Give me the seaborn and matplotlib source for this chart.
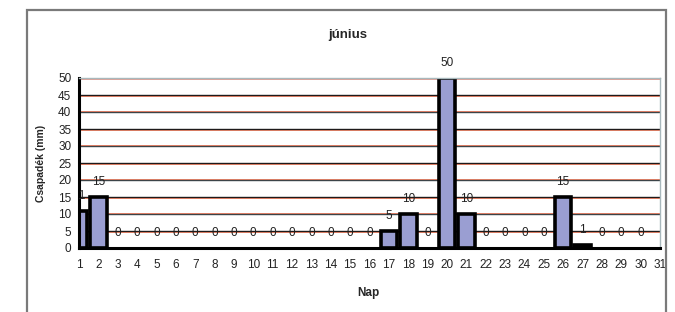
import numpy as np
import pandas as pd
import seaborn as sns
import matplotlib.pyplot as plt
from matplotlib.patches import Rectangle

# ----------------------------
# DATA
# ----------------------------
days = list(range(1, 32))
rain = [11, 15, 0, 0, 0, 0, 0, 0, 0, 0,
        0, 0, 0, 0, 0, 0, 5, 10, 0, 50,
        10, 0, 0, 0, 0, 15, 1, 0, 0, 0]
yticks = list(range(0, 55, 5))

title = "június"
xlabel = "Nap"
ylabel = "Csapadék (mm)"

df = pd.DataFrame({"nap": [str(d) for d in days[:len(rain)]], "mm": rain})
order = [str(d) for d in days]

# ----------------------------
# STYLE
# ----------------------------
sns.set_style("white")
plt.rcParams["font.family"] = ["Liberation Sans", "DejaVu Sans"]

fig = plt.figure(figsize=(6.75, 3.12), dpi=100)
ax = fig.add_axes([79 / 675, 1 - 248 / 312, (660 - 79) / 675, (248 - 78) / 312])

# outer frame of the chart
fig.patches.append(Rectangle((27 / 675, -0.05), (666 - 27) / 675, 1.05 - 10 / 312,
                             transform=fig.transFigure, fill=False,
                             edgecolor="#7a7a7a", linewidth=1.6, zorder=0))

# gridlines (dark with a reddish fringe, like the scan)
for i, y in enumerate(yticks[1:-1]):
    col = "#1e1a1a" if i % 2 == 0 else "#3c4448"
    ax.axhline(y, color=col, lw=1.0, zorder=0)
    ax.axhline(y + (-0.3 if i % 2 == 0 else 0.3), color="#d9502c", lw=0.6, alpha=0.8, zorder=0)
ax.axhline(50, color="#a8b8bc", lw=1.0, zorder=0)
ax.axhline(49.7, color="#e08070", lw=0.5, zorder=0)

# ----------------------------
# BARS
# ----------------------------
sns.barplot(data=df, x="nap", y="mm", order=order, color="#9a9ed2",
            edgecolor="black", linewidth=2.6, width=0.86, saturation=1,
            ax=ax, zorder=2)

# empty days: no visible bar outline
for p in ax.patches:
    if p.get_height() == 0:
        p.set_visible(False)

for i, v in enumerate(rain):
    ax.text(i, v + 4.3, str(v), ha="center", va="center", fontsize=8.5,
            color="#222222", zorder=3, clip_on=(i == 0))

ax.set_xlim(0, 30)
ax.set_ylim(0, 50)
ax.set_yticks(yticks)
ax.set_yticklabels([str(t) for t in yticks], fontsize=8.5)
ax.set_xticks(range(len(order)))
ax.set_xticklabels(order, fontsize=8.5)

for s in ["top", "right"]:
    ax.spines[s].set_color("#a8b8bc")
    ax.spines[s].set_linewidth(1.0)
for s in ["left", "bottom"]:
    ax.spines[s].set_color("black")
    ax.spines[s].set_linewidth(2.2)

ax.tick_params(axis="both", which="both", length=3, width=1.6, color="black",
               direction="out", pad=2.5, labelcolor="#222222")
ax.tick_params(axis="x", pad=5)

ax.set_xlabel("")
ax.set_ylabel("")
fig.text(348 / 675, 1 - 35 / 312, title, ha="center", va="center",
         fontsize=9.5, fontweight="bold")
fig.text(368 / 675, 1 - 293 / 312, xlabel, ha="center", va="center",
         fontsize=8.5, fontweight="bold")
fig.text(41 / 675, 1 - 163 / 312, ylabel, ha="center", va="center",
         fontsize=7.5, fontweight="bold", rotation=90)

fig.savefig("out.png", dpi=100, facecolor="white")
